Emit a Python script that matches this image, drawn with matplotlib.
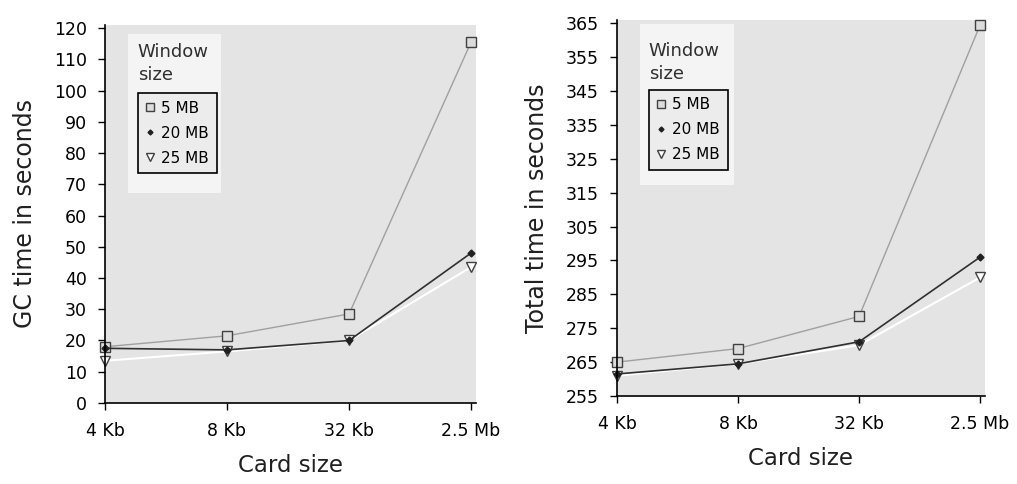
import matplotlib.pyplot as plt
from matplotlib.patches import Rectangle
from matplotlib.lines import Line2D

# data
card_sizes = ['4 Kb', '8 Kb', '32 Kb', '2.5 Mb']
windows = ['5 MB', '20 MB', '25 MB']

gc_5mb = [18, 21.5, 28.5, 115.5]
gc_20mb = [17.5, 17, 20, 48]
gc_25mb = [13.5, 16.5, 20, 43.5]

total_5mb = [265, 269, 278.5, 364.5]
total_20mb = [261.5, 264.5, 271, 296]
total_25mb = [261, 264.5, 270, 290]

bg = '#e4e4e4'
styles = [dict(marker='s', color='#a0a0a0', mec='#404040', mfc='#dcdcdc', ms=6.5, lw=1.0),
          dict(marker='D', color='#303030', mec='#202020', mfc='#202020', ms=3.5, lw=1.2),
          dict(marker='v', color='white', mec='#404040', mfc='white', ms=6.5, lw=1.5)]

fig = plt.figure(figsize=(10.17, 4.84), dpi=100)
ax1 = fig.add_axes([0.1032, 0.1674, 0.3648, 0.781])
ax2 = fig.add_axes([0.6067, 0.1818, 0.3618, 0.777])

def draw(ax, series, ylim, yticks, ylabel, patch, legend_box, title_xy):
    ax.set_facecolor(bg)
    x = range(len(card_sizes))
    # white 25MB line first, then 5MB, then 20MB on top
    for i in [2, 0, 1]:
        ax.plot(x, series[i], label=windows[i], clip_on=False, **styles[i])
    ax.set_xlim(0, 3.04)
    ax.set_ylim(*ylim)
    ax.set_yticks(yticks)
    ax.set_xticks(list(x))
    ax.set_xticklabels(card_sizes)
    ax.tick_params(axis='both', direction='out', length=5, width=1, labelsize=12.5, colors='black')
    ax.tick_params(axis='x', pad=9)
    ax.tick_params(axis='y', pad=8)
    for s in ['top', 'right']:
        ax.spines[s].set_visible(False)
    for s in ['left', 'bottom']:
        ax.spines[s].set_linewidth(1.2)
    ax.set_ylabel(ylabel, fontsize=17, labelpad=12, color='#202020')
    ax.set_xlabel('Card size', fontsize=16.5, labelpad=10, color='#202020')
    ax.add_patch(Rectangle((patch[0], patch[1]), patch[2], patch[3], transform=ax.transAxes,
                           facecolor='#f4f4f4', edgecolor='none', zorder=1))
    ax.text(title_xy[0], title_xy[1], 'Window\nsize', transform=ax.transAxes, fontsize=13,
            va='top', ha='left', linespacing=1.35, color='#303030', zorder=3)
    proxies = [Line2D([], [], linestyle='none', marker=styles[i]['marker'],
                      mec=styles[i]['mec'], mfc=styles[i]['mfc'], ms=styles[i]['ms'] - 1)
               for i in range(3)]
    leg = ax.legend(proxies, windows, loc='upper left', bbox_to_anchor=legend_box,
                    frameon=True, fancybox=False, edgecolor='black', framealpha=1,
                    facecolor='#ececec', fontsize=11, handlelength=0.6, handletextpad=0.45,
                    borderpad=0.5, labelspacing=0.65, borderaxespad=0)
    leg.get_frame().set_linewidth(1.2)

draw(ax1, [gc_5mb, gc_20mb, gc_25mb], (0, 121), range(0, 121, 10),
     'GC time in seconds', (0.062, 0.556, 0.25, 0.42), (0.088, 0.82), (0.088, 0.952))
draw(ax2, [total_5mb, total_20mb, total_25mb], (255, 366), range(255, 366, 10),
     'Total time in seconds', (0.062, 0.56, 0.255, 0.43), (0.086, 0.815), (0.086, 0.942))

fig.savefig('out.png', dpi=100, facecolor='white')
